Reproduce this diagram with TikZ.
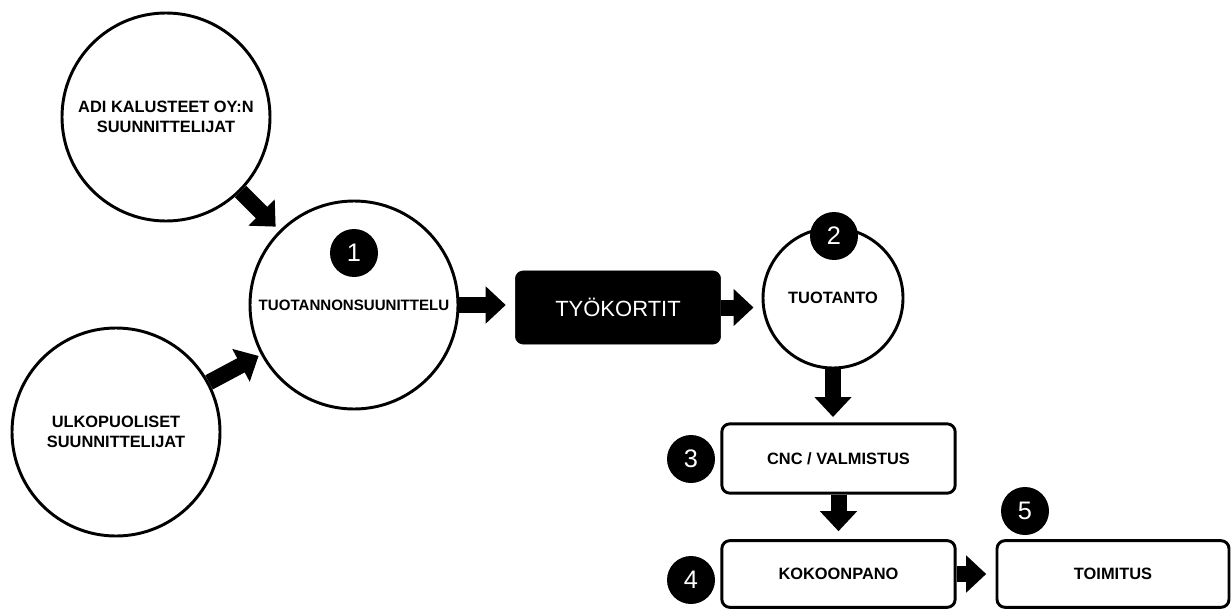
\documentclass[tikz,border=0pt]{standalone}
\usepackage{fontspec}
\setmainfont{Liberation Sans}
\usetikzlibrary{arrows.meta}

\begin{document}
\begin{tikzpicture}[x=0.75pt,y=-0.75pt]
    \tikzset{
        bubble/.style = {
            draw,
            circle,
            line width = 2.2pt,
            inner sep = 0pt,
            minimum size = 156pt,
            align = center,
            font = \fontsize{12.3}{15.5}\selectfont\bfseries
        },
        badge/.style = {
            circle,
            fill = black,
            text = white,
            inner sep = 0pt,
            minimum size = 36pt,
            font = \fontsize{19}{19}\selectfont
        },
        stepbox/.style = {
            draw,
            fill = white,
            rounded corners = 6pt,
            line width = 2.2pt,
            minimum width = 175pt,
            minimum height = 52pt,
            font = \fontsize{12.3}{14}\selectfont\bfseries
        },
        blk/.style = {
            line width = 12pt,
            -{Triangle[width = 27pt, length = 15pt]}
        }
    }

    \useasboundingbox (0,0) rectangle (1231,610);

    \node[bubble] (adi) at (166,117) {ADI KALUSTEET OY:N\\SUUNNITTELIJAT};
    \node[bubble] (ulko) at (116,432) {ULKOPUOLISET\\SUUNNITTELIJAT};
    \node[bubble, font = \fontsize{11.3}{14}\selectfont\bfseries] (plan) at (354,305) {TUOTANNONSUUNITTELU};
    \node[draw, fill = black, text = white, rounded corners = 6pt,
        minimum width = 154pt, minimum height = 55pt,
        font = \fontsize{16.5}{18}\selectfont] (cards) at (618,307.5) {TYÖKORTIT};
    \node[bubble, minimum size = 105pt] (prod) at (833,298) {TUOTANTO};

    \node[stepbox] (cnc) at (838.5,458.5) {CNC / VALMISTUS};
    \node[stepbox, minimum height = 50pt] (asm) at (838.5,574) {KOKOONPANO};
    \node[stepbox, minimum height = 50pt, minimum width = 174pt] (ship) at (1113,574) {TOIMITUS};

    \foreach \n/\x/\y in {1/354/253, 2/834/236, 3/691/459, 4/691/580, 5/1025/511}{
        \node[badge] (b\n) at (\x,\y) {\n};
    }

    \draw[blk, shorten > = 4pt] (adi) -- (plan);
    \draw[blk, shorten > = 2pt] (ulko) -- (plan);
    \draw[blk, shorten > = 7pt] (plan.east) -- (plan.east -| cards.west);
    \draw[blk, shorten > = 6pt] (cards.east) -- (cards.east -| prod.west);
    \draw[blk, shorten > = 4pt] (prod.south) -- (prod.south |- cnc.north);
    \draw[blk, shorten > = 6pt] (cnc) -- (asm);
    \draw[blk, shorten > = 7pt] (asm) -- (ship);

\end{tikzpicture}
\end{document}
